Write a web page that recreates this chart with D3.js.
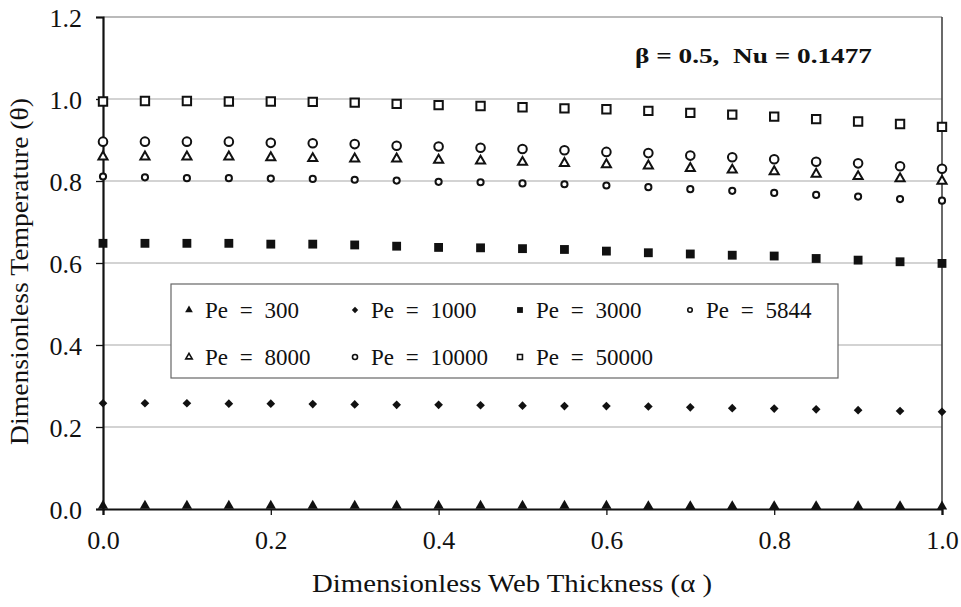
<!DOCTYPE html>
<html>
<head>
<meta charset="utf-8">
<script src="https://cdn.jsdelivr.net/npm/d3@7"></script>
<style>
  html, body { margin: 0; padding: 0; background: #fff; }
  svg { display: block; }
  text { font-family: "Liberation Serif", "Times New Roman", serif; fill: #111; }
</style>
</head>
<body>
<svg id="chart" width="961" height="607"></svg>
<script>
// ---------------- DATA ----------------
const alphaValues = [0.00, 0.05, 0.10, 0.15, 0.20, 0.25, 0.30, 0.35, 0.40, 0.45, 0.50,
                     0.55, 0.60, 0.65, 0.70, 0.75, 0.80, 0.85, 0.90, 0.95, 1.00];

const pe300   = [0.008,0.008,0.008,0.008,0.008,0.008,0.008,0.008,0.008,0.008,0.008,
                 0.008,0.008,0.007,0.007,0.007,0.007,0.007,0.007,0.007,0.006];
const pe1000  = [0.258,0.258,0.258,0.257,0.257,0.256,0.255,0.254,0.254,0.253,0.252,
                 0.251,0.251,0.250,0.248,0.246,0.245,0.243,0.241,0.239,0.237];
const pe3000  = [0.648,0.648,0.648,0.648,0.646,0.646,0.644,0.641,0.638,0.637,0.635,
                 0.633,0.629,0.625,0.622,0.619,0.617,0.611,0.607,0.603,0.599];
const pe5844  = [0.811,0.809,0.807,0.807,0.806,0.805,0.803,0.801,0.798,0.797,0.794,
                 0.792,0.789,0.785,0.780,0.776,0.771,0.766,0.762,0.756,0.752];
const pe8000  = [0.859,0.859,0.859,0.859,0.857,0.855,0.854,0.854,0.851,0.849,0.846,
                 0.843,0.840,0.837,0.831,0.827,0.823,0.817,0.811,0.806,0.800];
const pe10000 = [0.896,0.896,0.896,0.896,0.893,0.892,0.890,0.886,0.884,0.881,0.878,
                 0.875,0.871,0.868,0.862,0.858,0.853,0.847,0.843,0.836,0.830];
const pe50000 = [0.994,0.995,0.995,0.994,0.994,0.993,0.991,0.988,0.985,0.983,0.980,
                 0.977,0.975,0.971,0.966,0.962,0.957,0.951,0.945,0.939,0.932];

const seriesLabels = ["Pe = 300", "Pe = 1000", "Pe = 3000", "Pe = 5844",
                      "Pe = 8000", "Pe = 10000", "Pe = 50000"];
const xTicks = [0.0, 0.2, 0.4, 0.6, 0.8, 1.0];
const yTicks = [0.0, 0.2, 0.4, 0.6, 0.8, 1.0, 1.2];
const xTitle = "Dimensionless Web Thickness (\u03b1 )";
const yTitle = "Dimensionless Temperature (\u03b8)";
const annotation = "\u03b2 = 0.5,  Nu = 0.1477";

// ---------------- STYLE / LAYOUT ----------------
const ink = "#111";
const markerStyles = [
  { type: d3.symbolTriangle, size: 46, fill: ink,  stroke: "none", sw: 0,   lsize: 26 },
  { type: d3.symbolDiamond2, size: 48, fill: ink,  stroke: "none", sw: 0,   lsize: 26 },
  { type: d3.symbolSquare,   size: 78, fill: ink,  stroke: "none", sw: 0,   lsize: 34 },
  { type: d3.symbolCircle,   size: 30, fill: "#fff", stroke: ink, sw: 2,   lsize: 16 },
  { type: d3.symbolTriangle, size: 36, fill: "#fff", stroke: ink, sw: 2,   lsize: 18 },
  { type: d3.symbolCircle,   size: 58, fill: "#fff", stroke: ink, sw: 2,   lsize: 20 },
  { type: d3.symbolSquare,   size: 70, fill: "#fff", stroke: ink, sw: 2,   lsize: 24 }
];
const seriesValues = [pe300, pe1000, pe3000, pe5844, pe8000, pe10000, pe50000];

const svg = d3.select("#chart");
const x = d3.scaleLinear().domain([0, 1]).range([103, 942]);
const y = d3.scaleLinear().domain([0, 1.2]).range([509, 17]);

// gridlines
svg.append("g")
  .selectAll("line")
  .data(yTicks.filter(t => t > 0 && t < 1.2))
  .join("line")
  .attr("x1", x(0)).attr("x2", x(1))
  .attr("y1", d => y(d)).attr("y2", d => y(d))
  .attr("stroke", "#a8a8a8").attr("stroke-width", 1.2);

// plot border top/right
svg.append("line").attr("x1", x(0)).attr("x2", x(1)).attr("y1", y(1.2)).attr("y2", y(1.2))
  .attr("stroke", "#777").attr("stroke-width", 1.2);
svg.append("line").attr("x1", x(1)).attr("x2", x(1)).attr("y1", y(1.2)).attr("y2", y(0))
  .attr("stroke", "#444").attr("stroke-width", 1.6);

// axes
const xAxis = d3.axisBottom(x).tickValues(xTicks).tickFormat(d3.format(".1f")).tickSize(6).tickPadding(16);
const yAxis = d3.axisLeft(y).tickValues(yTicks).tickFormat(d3.format(".1f")).tickSize(7).tickPadding(14);

const gx = svg.append("g").attr("transform", `translate(0,${y(0)})`).call(xAxis);
const gy = svg.append("g").attr("transform", `translate(${x(0)},0)`).call(yAxis);
[gx, gy].forEach(g => {
  g.select(".domain").attr("stroke", ink).attr("stroke-width", 2.2);
  g.selectAll(".tick line").attr("stroke", ink).attr("stroke-width", 1.3);
  g.selectAll(".tick text").attr("font-size", 26).attr("fill", ink)
    .attr("font-family", "Liberation Serif, Times New Roman, serif");
});
gy.selectAll(".tick text").attr("dy", "0.36em");
gx.selectAll(".tick text").attr("dy", "0.71em");

// markers
seriesValues.forEach((vals, i) => {
  const st = markerStyles[i];
  const sym = d3.symbol().type(st.type).size(st.size);
  svg.append("g")
    .selectAll("path")
    .data(vals.map((v, j) => [alphaValues[j], v]))
    .join("path")
    .attr("d", sym)
    .attr("transform", d => `translate(${x(d[0])},${y(d[1])})`)
    .attr("fill", st.fill)
    .attr("stroke", st.stroke)
    .attr("stroke-width", st.sw);
});

// legend
const legend = svg.append("g");
legend.append("rect").attr("x", 171).attr("y", 284).attr("width", 667).attr("height", 94)
  .attr("fill", "#fff").attr("stroke", "#666").attr("stroke-width", 1.2);
const colX = [189, 355, 520, 690];
const rowY = [318, 365];
const legendPos = [[0,0],[1,0],[2,0],[3,0],[0,1],[1,1],[2,1]];
seriesLabels.forEach((lab, i) => {
  const st = markerStyles[i];
  const [c, r] = legendPos[i];
  const sym = d3.symbol().type(st.type).size(st.lsize);
  legend.append("path").attr("d", sym)
    .attr("transform", `translate(${colX[c]},${rowY[r] - 8})`)
    .attr("fill", st.fill).attr("stroke", st.stroke).attr("stroke-width", st.sw ? 1.6 : 0);
  legend.append("text").attr("x", colX[c] + 16).attr("y", rowY[r])
    .attr("font-size", 23).style("word-spacing", "6px").text(lab);
});

// annotation
svg.append("text").attr("x", 635).attr("y", 63)
  .attr("font-size", 22).attr("font-weight", "bold")
  .style("white-space", "pre")
  .attr("textLength", 237).attr("lengthAdjust", "spacingAndGlyphs")
  .text(annotation);

// axis titles
svg.append("text").attr("x", 312).attr("y", 592)
  .attr("font-size", 26)
  .attr("textLength", 400).attr("lengthAdjust", "spacingAndGlyphs")
  .text(xTitle);
svg.append("text")
  .attr("transform", "translate(28,445) rotate(-90)")
  .attr("font-size", 25)
  .attr("textLength", 347).attr("lengthAdjust", "spacingAndGlyphs")
  .text(yTitle);
</script>
</body>
</html>
